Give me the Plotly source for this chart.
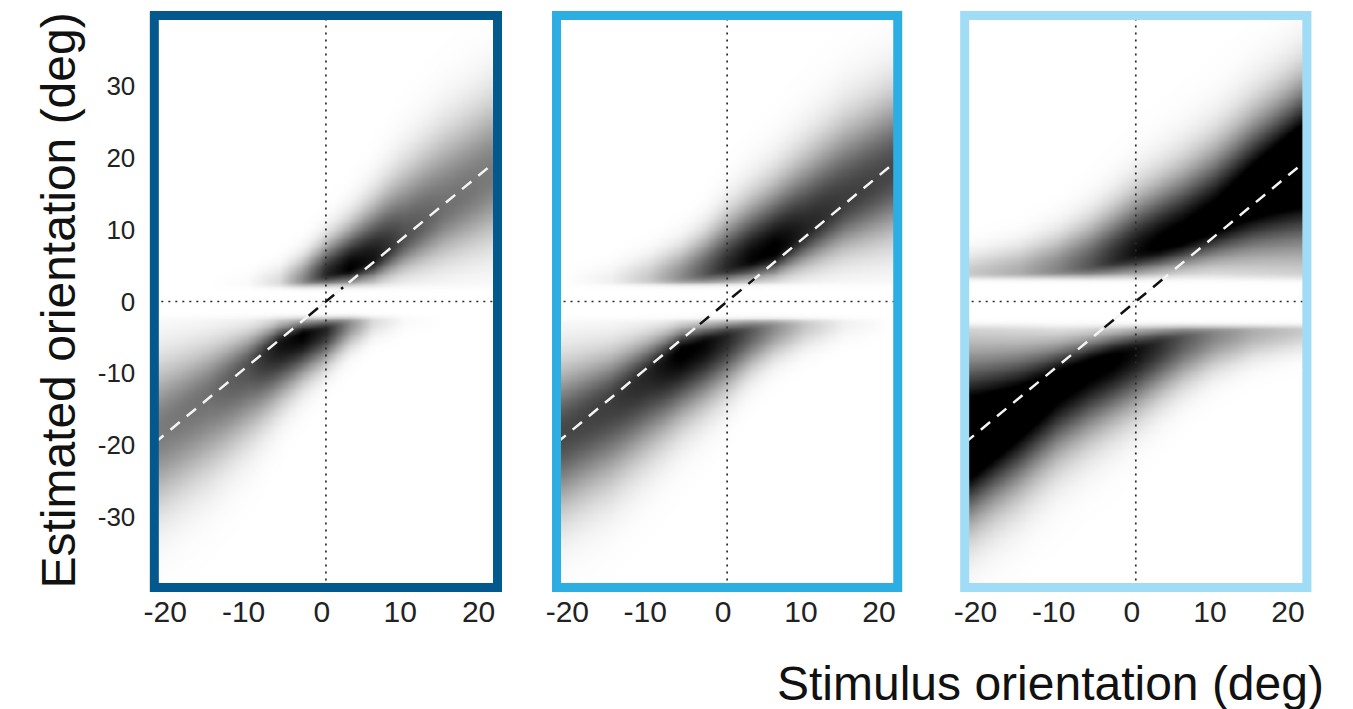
import numpy as np
import plotly.graph_objects as go

# ---------------- data ----------------
x_ticks = [-20, -10, 0, 10, 20]
y_ticks = [-30, -20, -10, 0, 10, 20, 30]
x_range = [-21.9, 21.9]
y_range = [-39.8, 39.8]

# stimulus positions at which the upper (clockwise) estimate band was read
stim_knots = [-21, -15, -10, -6, -3, 0, 3, 6, 10, 15, 21]

# panel 1 (low noise)
p1_amp = [0.0, 0.0, 0.02, 0.14, 0.45, 0.85, 1.0, 0.92, 0.68, 0.56, 0.52]
p1_mode = [2.2, 2.2, 2.3, 2.6, 3.0, 3.8, 4.6, 6.0, 9.0, 13.0, 17.5]
p1_sd_low = [0.5, 0.5, 0.5, 0.7, 0.9, 1.1, 1.4, 2.0, 3.0, 4.5, 6.0]
p1_sd_high = [1.0, 1.0, 1.2, 1.6, 2.2, 3.0, 3.8, 4.8, 6.0, 6.8, 7.0]
p1_edge = 2.0

# panel 2 (medium noise)
p2_amp = [0.0, 0.06, 0.22, 0.45, 0.65, 0.85, 0.98, 1.02, 0.86, 0.76, 0.72]
p2_mode = [2.6, 2.7, 3.0, 3.4, 4.0, 4.8, 5.8, 7.0, 10.0, 14.0, 18.0]
p2_sd_low = [0.6, 0.7, 0.9, 1.1, 1.3, 1.5, 1.8, 2.2, 3.2, 4.5, 6.0]
p2_sd_high = [1.2, 1.6, 2.2, 2.8, 3.5, 4.5, 5.2, 5.8, 6.5, 7.0, 7.0]
p2_edge = 2.4

# panel 3 (high noise)
p3_amp = [0.22, 0.32, 0.48, 0.66, 0.82, 0.95, 1.03, 1.06, 1.1, 1.2, 1.35]
p3_mode = [3.8, 4.0, 4.4, 5.0, 5.8, 6.8, 7.8, 9.0, 11.2, 15.0, 19.0]
p3_sd_low = [0.7, 0.8, 1.0, 1.3, 1.6, 2.0, 2.3, 2.7, 3.6, 5.5, 7.5]
p3_sd_high = [2.0, 2.5, 3.2, 4.0, 4.6, 5.2, 5.6, 6.0, 6.4, 6.8, 7.0]
p3_edge = 3.2

# diagonal reference line end points and the central black part of it
diag_x = [-21.9, 21.9]
diag_y = [-19.7, 19.7]
black_half = [2.2, 3.5, 4.0]

frame_colors = ["#03598e", "#2caee3", "#a0dcf5"]

panels = [
    (p1_amp, p1_mode, p1_sd_low, p1_sd_high, p1_edge),
    (p2_amp, p2_mode, p2_sd_low, p2_sd_high, p2_edge),
    (p3_amp, p3_mode, p3_sd_low, p3_sd_high, p3_edge),
]

# ---------------- build density images from the read bands ----------------
gx = np.round(np.arange(x_range[0], x_range[1] + 1e-9, 0.3), 3)
gy = np.round(np.arange(y_range[0], y_range[1] + 1e-9, 0.25), 3)
X, Y = np.meshgrid(gx, gy)


def band(xs, ys, amp, mode, sdl, sdh, edge):
    a = np.interp(xs, stim_knots, amp)
    m = np.interp(xs, stim_knots, mode)
    sl = np.interp(xs, stim_knots, sdl)
    sh = np.interp(xs, stim_knots, sdh)
    s = np.where(ys < m, sl, sh)
    g = a * np.exp(-0.5 * ((ys - m) / s) ** 2)
    return g / (1 + np.exp(-(ys - edge) / 0.22))


# ---------------- figure ----------------
W, H = 1353, 709
x_px = [(144.5, 490.5), (550.0, 894.0), (961.5, 1306.5)]
y_dom = [1 - 587.5 / H, 1 - 15.5 / H]
FONT = "Liberation Sans, Arial, sans-serif"

fig = go.Figure()
layout = dict(
    width=W, height=H, margin=dict(l=0, r=0, t=0, b=0),
    paper_bgcolor="white", plot_bgcolor="white", showlegend=False,
    font=dict(family=FONT, color="#222"),
)

for i, (amp, mode, sdl, sdh, edge) in enumerate(panels):
    n = i + 1
    xa = "x" if n == 1 else f"x{n}"
    ya = "y" if n == 1 else f"y{n}"
    z = band(X, Y, amp, mode, sdl, sdh, edge) + band(-X, -Y, amp, mode, sdl, sdh, edge)
    z = np.round(np.clip(z, 0, 1), 3)
    fig.add_trace(go.Heatmap(
        x=gx, y=gy, z=z, xaxis=xa, yaxis=ya, zmin=0, zmax=1,
        colorscale=[[0, "#ffffff"], [1, "#000000"]], showscale=False,
        zsmooth="best", hoverinfo="skip",
    ))
    # dotted zero lines
    fig.add_trace(go.Scatter(x=[0, 0], y=y_range, xaxis=xa, yaxis=ya, mode="lines",
                             line=dict(color="#2a2a2a", width=1.7, dash="2px,5px"),
                             hoverinfo="skip"))
    fig.add_trace(go.Scatter(x=x_range, y=[0, 0], xaxis=xa, yaxis=ya, mode="lines",
                             line=dict(color="#2a2a2a", width=1.7, dash="2px,5px"),
                             hoverinfo="skip"))
    # dashed diagonal: white, with black middle part
    fig.add_trace(go.Scatter(x=diag_x, y=diag_y, xaxis=xa, yaxis=ya, mode="lines",
                             line=dict(color="#f4f4f4", width=2.5, dash="12px,9px"),
                             hoverinfo="skip"))
    bx = [-black_half[i], black_half[i]]
    by = list(np.interp(bx, diag_x, diag_y))
    fig.add_trace(go.Scatter(x=bx, y=by, xaxis=xa, yaxis=ya, mode="lines",
                             line=dict(color="#111111", width=2.5, dash="12px,9px"),
                             hoverinfo="skip"))

    layout["xaxis" if n == 1 else f"xaxis{n}"] = dict(
        domain=[x_px[i][0] / W, x_px[i][1] / W], range=x_range, anchor=ya,
        showgrid=False, zeroline=False, showline=False, ticks="",
        tickvals=x_ticks, ticktext=[str(v) for v in x_ticks],
        tickfont=dict(size=30, color="#222"), ticklabelstandoff=3, ticklabelshift=-4,
        fixedrange=True,
    )
    layout["yaxis" if n == 1 else f"yaxis{n}"] = dict(
        domain=y_dom, range=y_range, anchor=xa,
        showgrid=False, zeroline=False, showline=False, ticks="",
        tickvals=y_ticks, ticktext=[str(v) for v in y_ticks],
        showticklabels=(n == 1), tickfont=dict(size=26, color="#222"),
        ticklabelstandoff=18, fixedrange=True,
    )

fig.update_layout(**layout)

for i in range(3):
    n = i + 1
    fig.add_shape(type="rect", xref=("x" if n == 1 else f"x{n}") + " domain",
                  yref=("y" if n == 1 else f"y{n}") + " domain",
                  x0=0, x1=1, y0=0, y1=1, layer="above",
                  line=dict(color=frame_colors[i], width=9))

fig.add_annotation(text="Estimated orientation (deg)", xref="paper", yref="paper",
                   x=47 / W, y=1 - 301 / H, xanchor="center", yanchor="middle",
                   textangle=-90, showarrow=False,
                   font=dict(size=48, color="#111", family=FONT))
fig.add_annotation(text="Stimulus orientation (deg)", xref="paper", yref="paper",
                   x=1326 / W, y=1 - 683 / H, xanchor="right", yanchor="middle",
                   showarrow=False,
                   font=dict(size=48, color="#111", family=FONT))

fig.write_html("out.html", config={"displayModeBar": False},
               post_script="document.body.style.margin='0';document.body.style.overflow='hidden';")
